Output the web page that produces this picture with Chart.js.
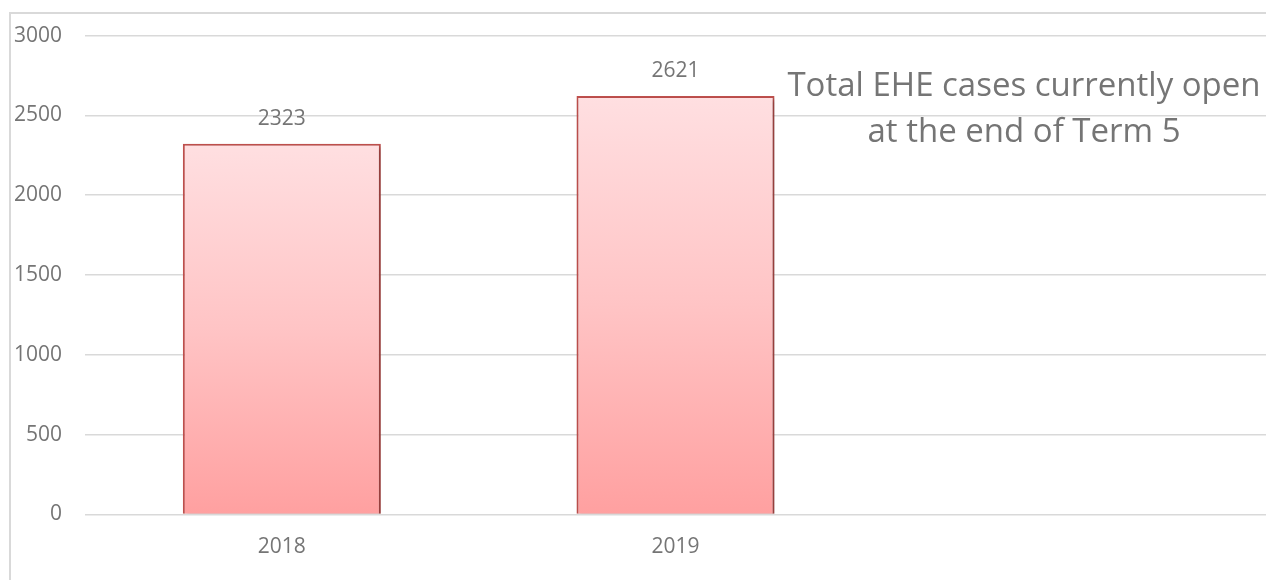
<!DOCTYPE html>
<html>
<head>
<meta charset="utf-8">
<script src="https://cdn.jsdelivr.net/npm/chart.js@4.4.0/dist/chart.umd.min.js"></script>
<style>
  html, body { margin: 0; padding: 0; background: #fff; overflow: hidden; }
  #wrap { position: relative; width: 1266px; height: 580px; }
  #frame { position: absolute; left: 9px; top: 12px; width: 1300px; height: 700px; border: 2px solid #d9d9d9; box-sizing: border-box; }
  canvas { position: absolute; left: 0; top: 0; }
  #note { position: absolute; left: 769px; top: 61px; width: 510px; text-align: center;
          font-family: "Open Sans", sans-serif; font-size: 33px; line-height: 46px; color: #757575; white-space: nowrap; }
</style>
</head>
<body>
<div id="wrap">
  <div id="frame"></div>
  <canvas id="c" width="1266" height="580"></canvas>
  <div id="note">Total EHE cases currently open<br>at the end of Term 5</div>
</div>
<script>
const categories = ['2018', '2019', ''];
const openCases = [2323, 2621, null];
const yTicks = [0, 500, 1000, 1500, 2000, 2500, 3000];

const FONT = '"Open Sans", sans-serif';
const TEXT = '#757575';

const valueLabels = {
  id: 'valueLabels',
  afterDatasetsDraw(chart) {
    const ctx = chart.ctx;
    const meta = chart.getDatasetMeta(0);
    ctx.save();
    ctx.font = '21px ' + FONT;
    ctx.fillStyle = TEXT;
    ctx.textAlign = 'center';
    ctx.textBaseline = 'middle';
    meta.data.forEach((bar, i) => {
      const v = chart.data.datasets[0].data[i];
      if (v == null) return;
      ctx.fillText(String(v), bar.x, bar.y - 25);
    });
    ctx.restore();
  }
};

const barShadow = {
  id: 'barShadow',
  beforeDatasetsDraw(chart) {
    const ctx = chart.ctx;
    ctx.save();
    ctx.shadowColor = 'rgba(0,0,0,0.28)';
    ctx.shadowBlur = 4;
    ctx.shadowOffsetX = 2;
    ctx.shadowOffsetY = 2;
  },
  afterDatasetsDraw(chart) {
    chart.ctx.restore();
  }
};

new Chart(document.getElementById('c'), {
  type: 'bar',
  data: {
    labels: categories,
    datasets: [{
      data: openCases,
      backgroundColor(context) {
        const chart = context.chart;
        const y = chart.scales.y;
        if (!chart.chartArea || !y || context.raw == null) return '#ffc3c3';
        const top = y.getPixelForValue(context.raw);
        const bottom = y.getPixelForValue(0);
        if (!isFinite(top) || !isFinite(bottom) || top === bottom) return '#ffc3c3';
        const g = chart.ctx.createLinearGradient(0, top, 0, bottom);
        g.addColorStop(0, '#ffdfe1');
        g.addColorStop(0.5, '#ffc4c5');
        g.addColorStop(1, '#ffa0a0');
        return g;
      },
      borderColor: '#c0504d',
      borderWidth: 2,
      borderSkipped: 'bottom',
      categoryPercentage: 1,
      barPercentage: 0.503
    }]
  },
  options: {
    responsive: false,
    animation: false,
    layout: { padding: { top: 35, left: 0, right: 0, bottom: 0 } },
    plugins: { legend: { display: false }, tooltip: { enabled: false }, title: { display: false } },
    scales: {
      x: {
        grid: { display: false, drawTicks: false },
        border: { display: false },
        ticks: { color: TEXT, font: { family: FONT, size: 21 }, padding: 20 },
        afterFit(s) { s.height = 65.5; }
      },
      y: {
        min: 0, max: 3000,
        afterBuildTicks(s) { s.ticks = yTicks.map(v => ({ value: v })); },
        grid: { color: '#d9d9d9', lineWidth: 1.5, drawTicks: false },
        border: { display: false },
        ticks: { color: TEXT, font: { family: FONT, size: 21 }, padding: 23, callback: v => String(v) },
        afterFit(s) { s.width = 85; }
      }
    }
  },
  plugins: [barShadow, valueLabels]
});
</script>
</body>
</html>
